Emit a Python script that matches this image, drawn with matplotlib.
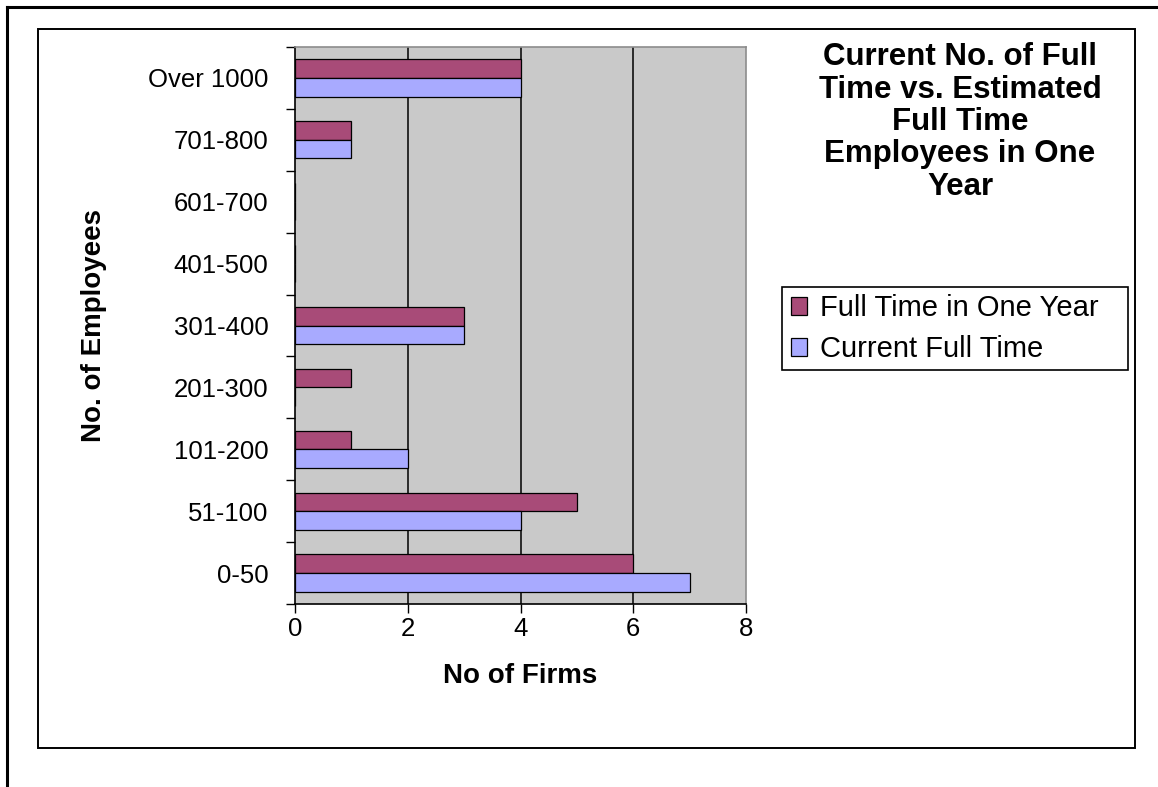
import numpy as np
import matplotlib.pyplot as plt
from matplotlib.patches import Rectangle, Patch

plt.rcParams['font.family'] = ['Liberation Sans', 'DejaVu Sans']

categories = ['0-50', '51-100', '101-200', '201-300', '301-400',
              '401-500', '601-700', '701-800', 'Over 1000']
full_time_one_year = [6, 5, 1, 1, 3, 0, 0, 1, 4]
current_full_time = [7, 4, 2, 0, 3, 0, 0, 1, 4]
x_ticks = [0, 2, 4, 6, 8]

purple = '#A84B78'
blue = '#A8AAFF'
W, H = 1158, 787

fig = plt.figure(figsize=(W / 100, H / 100), dpi=100)

# outer frame (open at bottom/right) and chart box
fig.add_artist(plt.Line2D([7 / W, 7 / W], [0, 1 - 7 / H], color='black', lw=2.2,
                          transform=fig.transFigure))
fig.add_artist(plt.Line2D([7 / W, 1], [1 - 7 / H, 1 - 7 / H], color='black', lw=2.2,
                          transform=fig.transFigure))
fig.add_artist(Rectangle((38 / W, 1 - 748 / H), (1135 - 38) / W, (748 - 29) / H,
                         fill=False, ec='black', lw=1.4, transform=fig.transFigure))

ax = fig.add_axes([295 / W, 1 - 604 / H, (746 - 295) / W, (604 - 47) / H])
ax.set_facecolor('#C9C9C9')

y = np.arange(len(categories))
h = 0.3
ax.barh(y + h / 2, full_time_one_year, height=h, color=purple, edgecolor='black',
        lw=0.9, label='Full Time in One Year', zorder=3)
ax.barh(y - h / 2, current_full_time, height=h, color=blue, edgecolor='black',
        lw=0.9, label='Current Full Time', zorder=3)

ax.set_xlim(0, 8)
ax.set_ylim(-0.5, len(categories) - 0.5)
ax.set_xticks(x_ticks)
ax.set_xticklabels([str(v) for v in x_ticks], fontsize=18.5)
ax.tick_params(axis='x', length=6.5, width=1, pad=3)

# tick marks between categories, labels at the centres
ax.set_yticks(np.arange(len(categories) + 1) - 0.5)
ax.set_yticklabels([])
ax.set_yticks(y, minor=True)
ax.set_yticklabels(categories, minor=True, fontsize=18.5)
ax.tick_params(axis='y', which='major', length=6.5, width=1)
ax.tick_params(axis='y', which='minor', length=0, pad=19)

for gx in x_ticks[1:-1]:
    ax.axvline(gx, color='black', lw=1.1, zorder=1)

for s in ['top', 'right']:
    ax.spines[s].set_color('#8C8C8C')
    ax.spines[s].set_linewidth(1.2)
for s in ['left', 'bottom']:
    ax.spines[s].set_linewidth(1.2)

ax.set_xlabel('No of Firms', fontsize=20, fontweight='bold', labelpad=16)
ax.set_ylabel('No. of Employees', fontsize=20, fontweight='bold', labelpad=30)

fig.text(960 / W, 1 - 122 / H,
         'Current No. of Full\nTime vs. Estimated\nFull Time\nEmployees in One\nYear',
         ha='center', va='center', fontsize=22.5, fontweight='bold', linespacing=1.1)

# legend entries without frame, box drawn separately
handles = [Patch(facecolor=purple, edgecolor='black', lw=0.9),
           Patch(facecolor=blue, edgecolor='black', lw=0.9)]
fig.legend(handles, ['Full Time in One Year', 'Current Full Time'],
           loc='upper left', bbox_to_anchor=(784 / W, 1 - 287 / H),
           fontsize=21, frameon=False, borderpad=0.25,
           handlelength=0.55, handleheight=0.55, handletextpad=0.45,
           labelspacing=0.45, borderaxespad=0)
fig.add_artist(Rectangle((782 / W, 1 - 370 / H), (1128 - 782) / W, (370 - 287) / H,
                         fill=False, ec='black', lw=1.2, transform=fig.transFigure))

fig.savefig('out.png', dpi=100)
